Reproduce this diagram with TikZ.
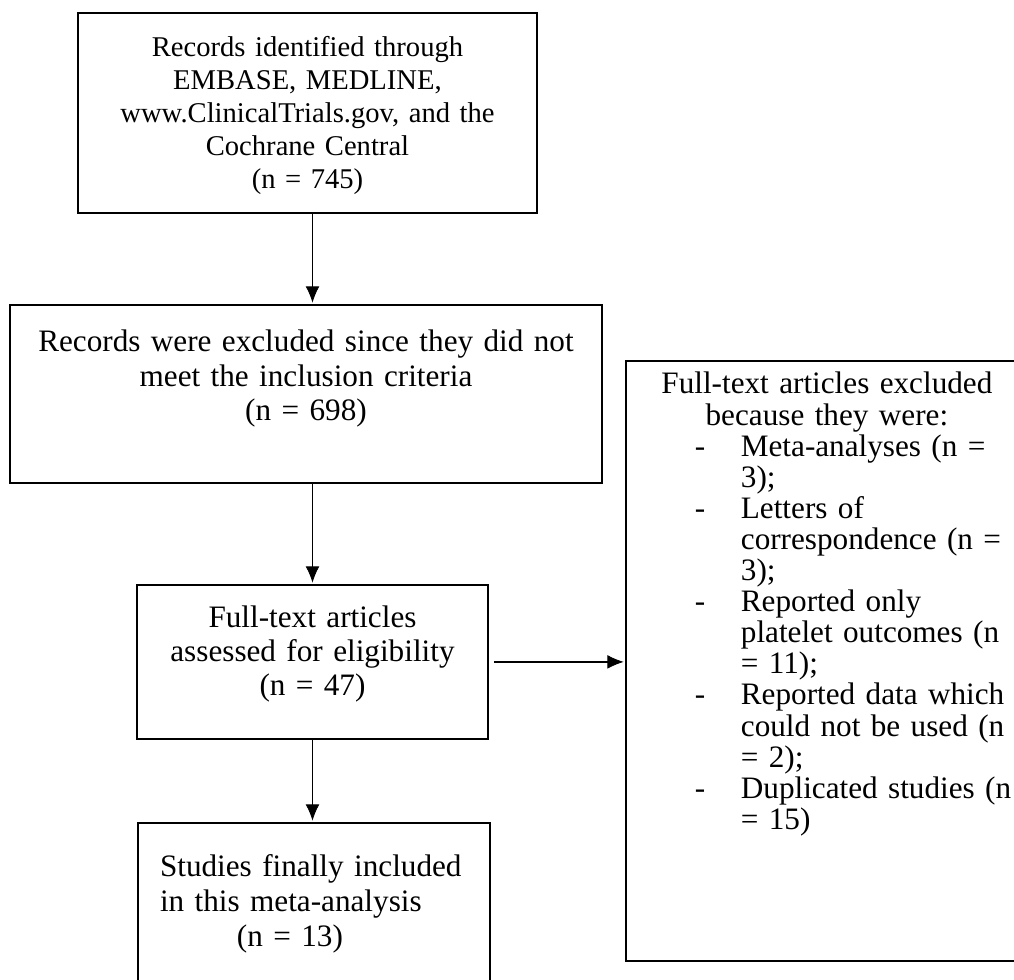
\documentclass[tikz,border=0pt]{standalone}
\usepackage{fontspec}
\setmainfont{Liberation Serif}
\usetikzlibrary{positioning, calc, arrows.meta, decorations.markings}
\tikzstyle{Arrow} = [
%Flow arrow with a filled tip:
line width=0.75pt,
decoration={
markings,
mark=at position 1 with {
\arrow{Latex[length=9pt, width=7.5pt]}
}
},
shorten >= 3pt, preaction = {decorate}
]
\newcommand{\exdash}{\par\noindent\llap{\makebox[23pt][l]{-}}}

\begin{document}
\begin{tikzpicture}[x=0.5pt, y=-0.5pt,
				stage/.style = {rectangle, draw, line width=0.9pt, anchor=north, inner xsep=0pt, inner ysep=0pt},
				big/.style = {font=\fontsize{15.6pt}{17.25pt}\selectfont},
				small/.style = {font=\fontsize{14.3pt}{16.5pt}\selectfont},
			]
			\useasboundingbox (0,0) rectangle (1014,980);
			\clip (0,0) rectangle (1014,980);

			\node[stage, small, align=center, text width=229.5pt, text height=22pt, text depth=78pt] (REC) at (307.5,12) {Records identified through\\ EMBASE, MEDLINE,\\ www.ClinicalTrials.gov, and the\\ Cochrane Central\\ (n = 745)};
			\node[stage, big, align=center, text width=296pt, text height=23.5pt, text depth=65.5pt] (EXC) at (306,304) {Records were excluded since they did not\\ meet the inclusion criteria\\ (n = 698)};
			\node[stage, font=\fontsize{15.6pt}{17pt}\selectfont, align=center, text width=175.5pt, text height=21.5pt, text depth=55.5pt] (FULL) at (312.5,584) {Full-text articles\\ assessed for eligibility\\ (n = 47)};
			\node[stage, font=\fontsize{15.6pt}{17.5pt}\selectfont, align=left, inner xsep=11pt, text width=154pt, text height=27pt, text depth=100pt] (INC) at (314,822) {Studies finally included\\ in this meta-analysis\\ \hspace*{38.5pt}(n = 13)};
			\node[stage, anchor=north west, font=\fontsize{15.6pt}{15.55pt}\selectfont, text width=201pt, text height=16.5pt, text depth=283.5pt] (OUT) at (625,360) {%
				{\centering Full-text articles excluded\\ because they were:\par}
				\raggedright\leftskip=57.5pt
				\exdash Meta-analyses (n =\\ 3);
				\exdash Letters of\\ correspondence (n =\\ 3);
				\exdash Reported only\\ platelet outcomes (n\\ = 11);
				\exdash Reported data which\\ could not be used (n\\ = 2);
				\exdash Duplicated studies (n\\ = 15)\par};

			\draw[Arrow](REC.south -| FULL.north)--(EXC.north -| FULL.north);
			\draw[Arrow](EXC.south -| FULL.north)--(FULL.north);
			\draw[Arrow](FULL.south)--(INC.north -| FULL.south);
			\draw[Arrow, shorten <= 2.5pt](FULL.east)--(FULL.east -| OUT.west);

		\end{tikzpicture}
\end{document}
